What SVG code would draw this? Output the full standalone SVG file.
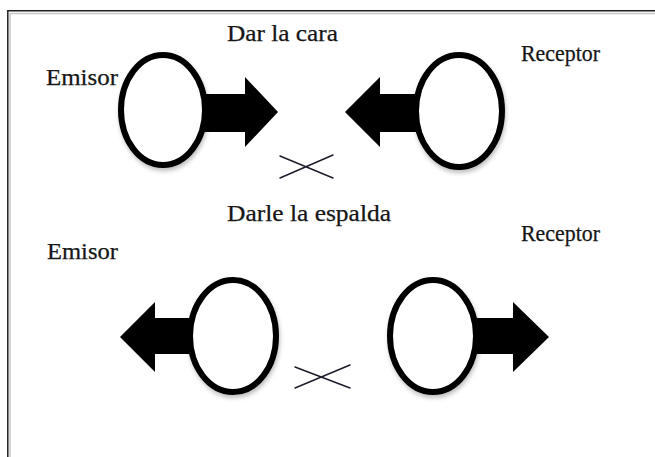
<svg xmlns="http://www.w3.org/2000/svg" width="655" height="457" viewBox="0 0 655 457">
  <style>
    .lbl { font-family: "Liberation Serif", "Times New Roman", serif; font-size: 23px; fill: #161616; stroke: #161616; stroke-width: 0.25; }
    .head { fill: #000; stroke: none; }
    .body { fill: #fff; stroke: #000; stroke-width: 6; filter: url(#soft); }
    .cross { stroke: #1c1c2a; stroke-width: 1.4; fill: none; stroke-linecap: round; }
    .frame { fill: none; stroke: #1e1e1e; stroke-width: 1.5; }
    .frame-shade { fill: none; stroke: #c8c8c8; stroke-width: 1.5; }
  </style>
  <defs>
    <filter id="soft" x="-20%" y="-20%" width="140%" height="150%">
      <feDropShadow dx="1" dy="3" stdDeviation="2" flood-color="#000" flood-opacity="0.25"/>
    </filter>
  </defs>

  <rect width="655" height="457" fill="#fff"/>

  <!-- page frame (open to the right and bottom) -->
  <path class="frame-shade" d="M10,457 V13.5 H655"/>
  <path class="frame" d="M7.8,457 V10.8 H655"/>

  <!-- section titles -->
  <text class="lbl" x="227" y="41" textLength="111" lengthAdjust="spacingAndGlyphs">Dar la cara</text>
  <text class="lbl" x="227" y="221" textLength="164" lengthAdjust="spacingAndGlyphs">Darle la espalda</text>

  <!-- connectors: crossing marks between the pairs -->
  <g id="connectors">
    <path class="cross" d="M280,156 L333,178 M280,178 L333,155"/>
    <path class="cross" d="M295,367 L350,388 M295,388 L350,365"/>
  </g>

  <!-- facing pair -->
  <g id="emisor-cara">
    <path class="head" d="M200,94 H245 V77 L278,112 L245,147 V132 H200 Z"/>
    <ellipse class="body" cx="163" cy="110" rx="42" ry="55"/>
    <text class="lbl" x="46" y="85" textLength="72" lengthAdjust="spacingAndGlyphs">Emisor</text>
  </g>
  <g id="receptor-cara">
    <path class="head" d="M420,94 H380 V77 L345,112 L380,147 V132 H420 Z"/>
    <ellipse class="body" cx="459" cy="111" rx="43" ry="56"/>
    <text class="lbl" x="521" y="61" textLength="79" lengthAdjust="spacingAndGlyphs">Receptor</text>
  </g>

  <!-- back-to-back pair -->
  <g id="emisor-espalda">
    <path class="head" d="M195,318 H155 V302 L120,337 L155,372 V354 H195 Z"/>
    <ellipse class="body" cx="233" cy="336" rx="43" ry="56"/>
    <text class="lbl" x="47" y="259" textLength="71" lengthAdjust="spacingAndGlyphs">Emisor</text>
  </g>
  <g id="receptor-espalda">
    <path class="head" d="M470,318 H513 V302 L549,337 L513,372 V354 H470 Z"/>
    <ellipse class="body" cx="433" cy="336" rx="43" ry="56"/>
    <text class="lbl" x="521" y="241" textLength="79" lengthAdjust="spacingAndGlyphs">Receptor</text>
  </g>
</svg>
